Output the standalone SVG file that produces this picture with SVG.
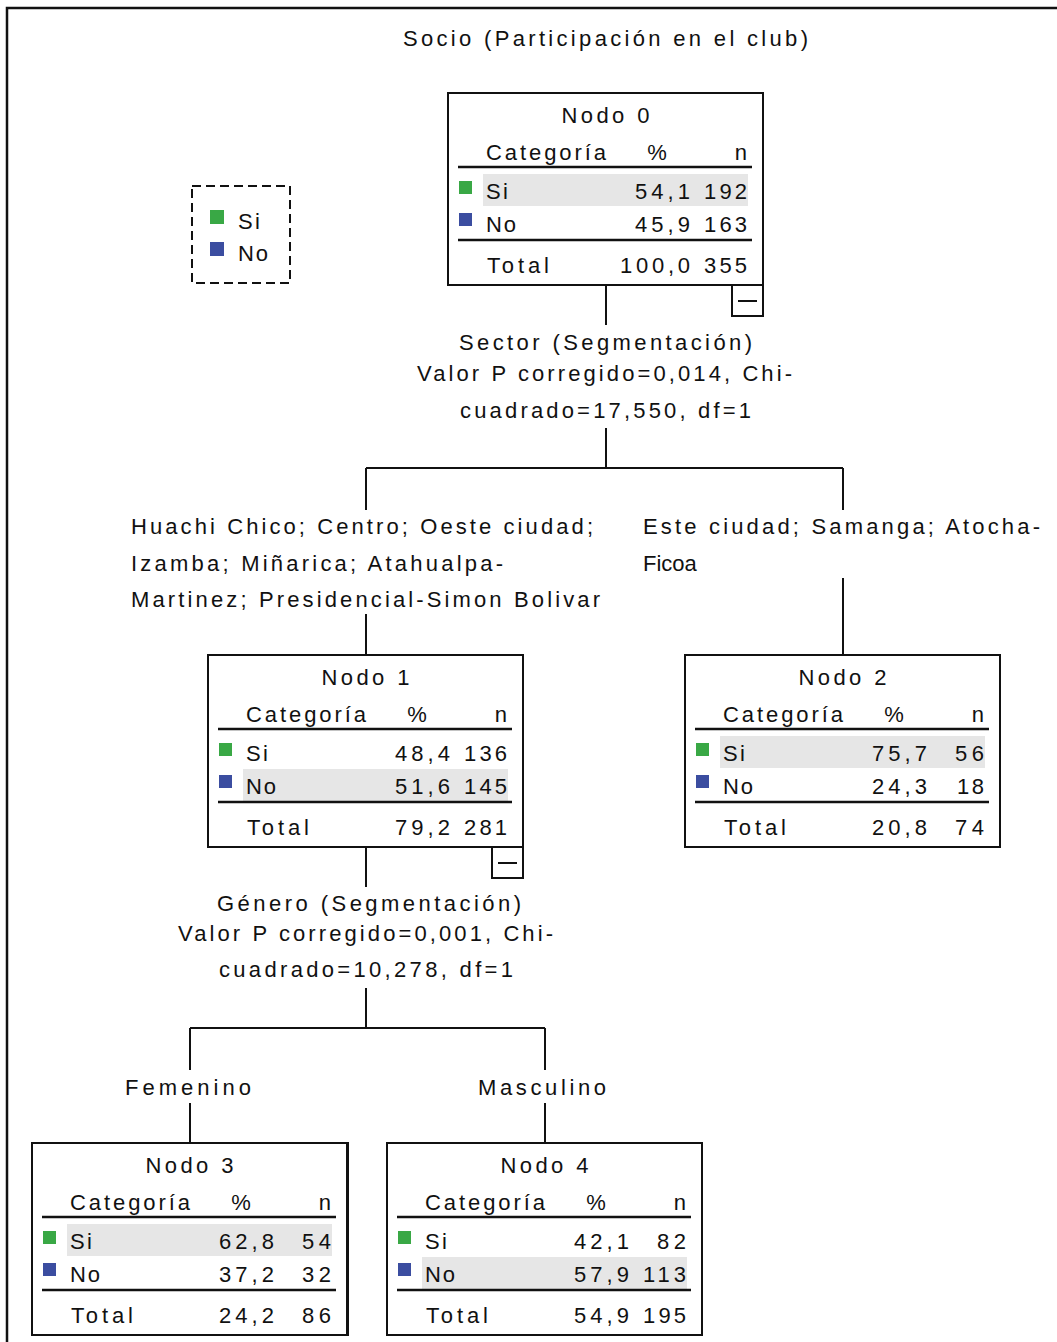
<svg xmlns="http://www.w3.org/2000/svg" width="1057" height="1342" viewBox="0 0 1057 1342">
  <style>
    text { font-family: "Liberation Sans", Arial, sans-serif; font-size: 22px; fill: #111; }
    .box { fill: #fff; stroke: #111; stroke-width: 2; }
    .outline { fill: none; stroke: #111; stroke-width: 2; }
    .rule { stroke: #111; stroke-width: 2.5; }
    .band { fill: #e6e6e6; }
    .si { fill: #39a845; }
    .no { fill: #3b4da0; }
    .wire { stroke: #111; stroke-width: 2; fill: none; }
    .mid { text-anchor: middle; }
    .end { text-anchor: end; }
  </style>
  <defs>
    <!-- shared table frame: outline, header rule, total rule, row labels -->
    <g id="frame">
      <rect class="outline" x="0" y="0" width="315" height="192"/>
      <line class="rule" x1="10" y1="74" x2="304" y2="74"/>
      <line class="rule" x1="10" y1="147" x2="304" y2="147"/>
      <rect class="si" x="11" y="88" width="13" height="13"/>
      <rect class="no" x="11" y="120" width="13" height="13"/>
      <text x="38" y="67" textLength="120" lengthAdjust="spacing">Categoría</text>
      <text x="209" y="67" class="mid">%</text>
      <text x="299" y="67" class="end">n</text>
      <text x="38" y="106" textLength="22" lengthAdjust="spacing">Si</text>
      <text x="38" y="139" textLength="30" lengthAdjust="spacing">No</text>
      <text x="39" y="180" textLength="62" lengthAdjust="spacing">Total</text>
    </g>
    <!-- collapse toggle under a split node -->
    <g id="toggle">
      <rect class="box" x="284" y="192" width="31" height="31"/>
      <line class="wire" x1="290" y1="208" x2="309" y2="208"/>
    </g>
  </defs>

  <rect x="0" y="0" width="1057" height="1342" fill="#fff"/>
  <!-- outer frame (top and left edges) -->
  <path d="M7 1342 V8 H1057" stroke="#111" stroke-width="2.5" fill="none"/>

  <text x="403" y="46" textLength="405" lengthAdjust="spacing">Socio (Participación en el club)</text>

  <!-- legend -->
  <g id="legend">
    <rect x="192" y="186" width="98" height="97" fill="none" stroke="#111" stroke-width="2" stroke-dasharray="9 5"/>
    <rect class="si" x="210" y="210" width="14" height="14"/>
    <rect class="no" x="210" y="242" width="14" height="14"/>
    <text x="238" y="229" textLength="22" lengthAdjust="spacing">Si</text>
    <text x="238" y="261" textLength="30" lengthAdjust="spacing">No</text>
  </g>

  <!-- connectors and split labels -->
  <g id="connectors">
    <path class="wire" d="M606 285 V325"/>
    <path class="wire" d="M606 428 V468 M366 468 H843 M366 468 V510 M843 468 V510"/>
    <path class="wire" d="M366 614 V655 M843 578 V655"/>
    <path class="wire" d="M366 847 V887"/>
    <path class="wire" d="M366 988 V1028 M190 1028 H545 M190 1028 V1070 M545 1028 V1070"/>
    <path class="wire" d="M190 1103 V1143 M545 1103 V1143"/>

    <text x="459" y="350" textLength="293" lengthAdjust="spacing">Sector (Segmentación)</text>
    <text x="417" y="381" textLength="375" lengthAdjust="spacing">Valor P corregido=0,014, Chi-</text>
    <text x="460" y="418" textLength="291" lengthAdjust="spacing">cuadrado=17,550, df=1</text>

    <text x="131" y="534" textLength="462" lengthAdjust="spacing">Huachi Chico; Centro; Oeste ciudad;</text>
    <text x="131" y="571" textLength="372" lengthAdjust="spacing">Izamba; Miñarica; Atahualpa-</text>
    <text x="131" y="607" textLength="469" lengthAdjust="spacing">Martinez; Presidencial-Simon Bolivar</text>

    <text x="643" y="534" textLength="397" lengthAdjust="spacing">Este ciudad; Samanga; Atocha-</text>
    <text x="643" y="571">Ficoa</text>

    <text x="217" y="911" textLength="304" lengthAdjust="spacing">Género (Segmentación)</text>
    <text x="178" y="941" textLength="375" lengthAdjust="spacing">Valor P corregido=0,001, Chi-</text>
    <text x="219" y="977" textLength="294" lengthAdjust="spacing">cuadrado=10,278, df=1</text>

    <text x="125" y="1095" textLength="126" lengthAdjust="spacing">Femenino</text>
    <text x="478" y="1095" textLength="128" lengthAdjust="spacing">Masculino</text>
  </g>

  <!-- Nodo 0 -->
  <g id="nodo0" transform="translate(448,93)">
    <rect class="box" x="0" y="0" width="315" height="192"/>
    <rect class="band" x="35" y="81" width="265" height="32"/>
    <use href="#frame"/>
    <use href="#toggle"/>
    <text x="157.5" y="30" class="mid" textLength="88" lengthAdjust="spacing">Nodo 0</text>
    <text x="242" y="106" class="end" textLength="55" lengthAdjust="spacing">54,1</text>
    <text x="299" y="106" class="end" textLength="43" lengthAdjust="spacing">192</text>
    <text x="242" y="139" class="end" textLength="55" lengthAdjust="spacing">45,9</text>
    <text x="299" y="139" class="end" textLength="43" lengthAdjust="spacing">163</text>
    <text x="242" y="180" class="end" textLength="70" lengthAdjust="spacing">100,0</text>
    <text x="299" y="180" class="end" textLength="43" lengthAdjust="spacing">355</text>
  </g>

  <!-- Nodo 1 -->
  <g id="nodo1" transform="translate(208,655)">
    <rect class="box" x="0" y="0" width="315" height="192"/>
    <rect class="band" x="35" y="114" width="265" height="32"/>
    <use href="#frame"/>
    <use href="#toggle"/>
    <text x="157.5" y="30" class="mid" textLength="88" lengthAdjust="spacing">Nodo 1</text>
    <text x="242" y="106" class="end" textLength="55" lengthAdjust="spacing">48,4</text>
    <text x="299" y="106" class="end" textLength="43" lengthAdjust="spacing">136</text>
    <text x="242" y="139" class="end" textLength="55" lengthAdjust="spacing">51,6</text>
    <text x="299" y="139" class="end" textLength="43" lengthAdjust="spacing">145</text>
    <text x="242" y="180" class="end" textLength="55" lengthAdjust="spacing">79,2</text>
    <text x="299" y="180" class="end" textLength="43" lengthAdjust="spacing">281</text>
  </g>

  <!-- Nodo 2 -->
  <g id="nodo2" transform="translate(685,655)">
    <rect class="box" x="0" y="0" width="315" height="192"/>
    <rect class="band" x="35" y="81" width="265" height="32"/>
    <use href="#frame"/>
    <text x="157.5" y="30" class="mid" textLength="88" lengthAdjust="spacing">Nodo 2</text>
    <text x="242" y="106" class="end" textLength="55" lengthAdjust="spacing">75,7</text>
    <text x="299" y="106" class="end" textLength="29" lengthAdjust="spacing">56</text>
    <text x="242" y="139" class="end" textLength="55" lengthAdjust="spacing">24,3</text>
    <text x="299" y="139" class="end" textLength="27" lengthAdjust="spacing">18</text>
    <text x="242" y="180" class="end" textLength="55" lengthAdjust="spacing">20,8</text>
    <text x="299" y="180" class="end" textLength="29" lengthAdjust="spacing">74</text>
  </g>

  <!-- Nodo 3 -->
  <g id="nodo3" transform="translate(32,1143)">
    <rect class="box" x="0" y="0" width="316" height="192"/>
    <rect class="band" x="35" y="81" width="265" height="32"/>
    <use href="#frame"/>
    <text x="157.5" y="30" class="mid" textLength="88" lengthAdjust="spacing">Nodo 3</text>
    <text x="242" y="106" class="end" textLength="55" lengthAdjust="spacing">62,8</text>
    <text x="299" y="106" class="end" textLength="29" lengthAdjust="spacing">54</text>
    <text x="242" y="139" class="end" textLength="55" lengthAdjust="spacing">37,2</text>
    <text x="299" y="139" class="end" textLength="29" lengthAdjust="spacing">32</text>
    <text x="242" y="180" class="end" textLength="55" lengthAdjust="spacing">24,2</text>
    <text x="299" y="180" class="end" textLength="29" lengthAdjust="spacing">86</text>
  </g>

  <!-- Nodo 4 -->
  <g id="nodo4" transform="translate(387,1143)">
    <rect class="box" x="0" y="0" width="315" height="192"/>
    <rect class="band" x="35" y="114" width="265" height="32"/>
    <use href="#frame"/>
    <text x="157.5" y="30" class="mid" textLength="88" lengthAdjust="spacing">Nodo 4</text>
    <text x="242" y="106" class="end" textLength="55" lengthAdjust="spacing">42,1</text>
    <text x="299" y="106" class="end" textLength="29" lengthAdjust="spacing">82</text>
    <text x="242" y="139" class="end" textLength="55" lengthAdjust="spacing">57,9</text>
    <text x="299" y="139" class="end" textLength="43" lengthAdjust="spacing">113</text>
    <text x="242" y="180" class="end" textLength="55" lengthAdjust="spacing">54,9</text>
    <text x="299" y="180" class="end" textLength="43" lengthAdjust="spacing">195</text>
  </g>
</svg>
